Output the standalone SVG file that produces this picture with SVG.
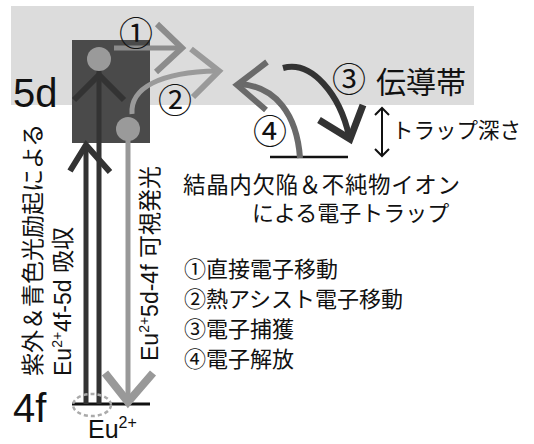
<svg xmlns="http://www.w3.org/2000/svg" width="534" height="444" viewBox="0 0 534 444">
<style>
.jp{font-family:"Noto Sans CJK JP","Noto Sans",sans-serif;fill:#111}
.lat{font-family:"Liberation Sans",Arial,sans-serif;fill:#111}
.num{font-family:"Noto Sans CJK JP",sans-serif;fill:#111;font-size:34px;text-anchor:middle;dominant-baseline:central}
.ln{fill:none;stroke-linecap:butt;stroke-linejoin:miter}
</style>
<rect width="534" height="444" fill="#fff"/>
<g id="conduction-band">
<rect x="11" y="6" width="463" height="99" fill="#dcdcdc"/>
<text class="jp" x="376" y="93" font-size="30">伝導帯</text>
</g>
<g id="level-5d">
<rect x="72" y="40" width="78" height="103" fill="#4a4a4a"/>
<text class="lat" x="13" y="107" font-size="40">5d</text>
</g>
<g id="level-4f">
<line x1="72" y1="404" x2="150" y2="404" stroke="#111" stroke-width="3"/>
<text class="lat" x="13" y="422" font-size="40">4f</text>
<text class="lat" x="88" y="438" font-size="25">Eu<tspan font-size="16" dy="-10">2+</tspan></text>
</g>
<g id="trap">
<line x1="270" y1="157" x2="348" y2="157" stroke="#111" stroke-width="2.5"/>
<text class="jp" x="183" y="193" font-size="22.5" textLength="277" lengthAdjust="spacing">結晶内欠陥＆不純物イオン</text>
<text class="jp" x="252" y="221" font-size="22">による電子トラップ</text>
</g>
<g id="trap-depth">
<path class="ln" d="M382,108 V156 M375,115 L382,108 L389,115 M375,149 L382,156 L389,149" stroke="#111" stroke-width="2"/>
<text class="jp" x="392" y="138" font-size="21.5">トラップ深さ</text>
</g>
<g id="connectors">
<path class="ln" d="M99,404 V62" stroke="#333" stroke-width="5"/>
<path class="ln" d="M74,100 L99,75 L124,100" stroke="#333" stroke-width="6"/>
<path class="ln" d="M86,404 V145" stroke="#333" stroke-width="5"/>
<path class="ln" d="M70,171 L86,145 L110,172" stroke="#333" stroke-width="6"/>
<path class="ln" d="M128,130 V402" stroke="#999" stroke-width="5"/>
<path class="ln" d="M105,373 L128,402 L153,373" stroke="#999" stroke-width="8"/>
<path class="ln" d="M114,48 H181" stroke="#8c8c8c" stroke-width="5"/>
<path class="ln" d="M157,24 L182,48 L156,72" stroke="#8c8c8c" stroke-width="6"/>
<path class="ln" d="M132,114 C130,88 160,72 217,71" stroke="#9a9a9a" stroke-width="5"/>
<path class="ln" d="M191,49 L219,71 L193,97" stroke="#9a9a9a" stroke-width="6"/>
<path class="ln" d="M283,68 C312,60 340,95 349,136" stroke="#333" stroke-width="6"/>
<path class="ln" d="M319,120 L350,139 L363,105" stroke="#333" stroke-width="7"/>
<path class="ln" d="M300,158 C297,115 276,86 239,84" stroke="#6a6a6a" stroke-width="6"/>
<path class="ln" d="M267,62 L237,85 L266,110" stroke="#6a6a6a" stroke-width="6"/>
</g>
<g id="electrons">
<circle cx="99" cy="59" r="12" fill="#9a9a9a"/>
<circle cx="128" cy="129" r="12" fill="#9a9a9a"/>
<ellipse cx="92" cy="405" rx="19" ry="11" fill="none" stroke="#aaa" stroke-width="2.5" stroke-dasharray="4,3"/>
</g>
<g id="excitation-labels">
<text class="jp" transform="translate(41,376) rotate(-90)" font-size="23">紫外＆青色光励起による</text>
<text class="jp" transform="translate(71,376) rotate(-90)" font-size="23"><tspan class="lat">Eu</tspan><tspan class="lat" font-size="14" dy="-9">2+</tspan><tspan class="lat" dy="9">4f-5d </tspan>吸収</text>
<text class="jp" transform="translate(158,361) rotate(-90)" font-size="23"><tspan class="lat">Eu</tspan><tspan class="lat" font-size="14" dy="-9">2+</tspan><tspan class="lat" dy="9">5d-4f </tspan>可視発光</text>
</g>
<g id="step-labels">
<text class="num" x="136" y="31">①</text>
<text class="num" x="175" y="98">②</text>
<text class="num" x="349" y="77">③</text>
<text class="num" x="270" y="129">④</text>
</g>
<g id="legend">
<text class="jp" x="184" y="277" font-size="22">①直接電子移動</text>
<text class="jp" x="184" y="307" font-size="22">②熱アシスト電子移動</text>
<text class="jp" x="184" y="337" font-size="22">③電子捕獲</text>
<text class="jp" x="184" y="367" font-size="22">④電子解放</text>
</g>
</svg>
